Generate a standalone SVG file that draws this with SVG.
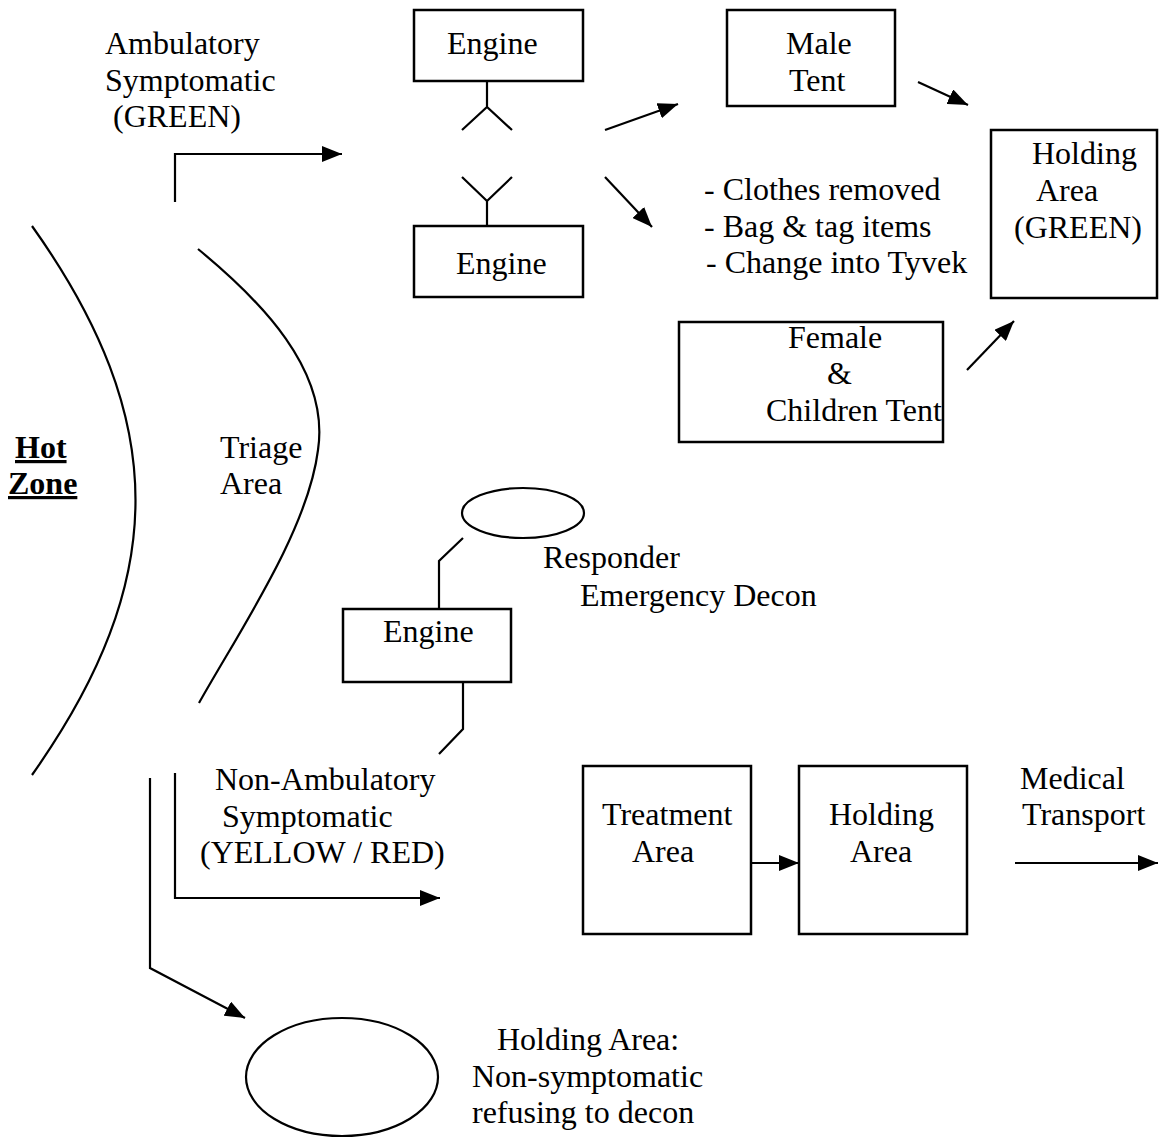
<svg xmlns="http://www.w3.org/2000/svg" width="1159" height="1138" viewBox="0 0 1159 1138">
<defs>
<style>
text{font-family:"Liberation Serif","Times New Roman",serif;font-size:32px;fill:#000}
.box{fill:#fff;stroke:#000;stroke-width:2.5}
.ln{fill:none;stroke:#000;stroke-width:2.2}
.ar{fill:none;stroke:#000;stroke-width:2.2;marker-end:url(#ah)}
.bold{font-weight:bold;text-decoration:underline}
</style>
<marker id="ah" markerUnits="userSpaceOnUse" markerWidth="20" markerHeight="16" refX="20" refY="8" orient="auto">
<path d="M0,0 L20,8 L0,16 z" fill="#000"/>
</marker>
</defs>
<rect width="1159" height="1138" fill="#fff"/>

<g id="hot-zone-boundary">
<path class="ln" d="M32,226 C170,420 170,580 32,775"/>
<text class="bold" x="15" y="458">Hot </text>
<text class="bold" x="8" y="494">Zone</text>
</g>
<g id="triage-area">
<path class="ln" d="M198,249 C260,300 330,370 318,450 C308,530 240,630 199,703"/>
<text x="220" y="458">Triage</text>
<text x="220" y="494">Area</text>
</g>

<g id="ambulatory-label">
<text x="105" y="54">Ambulatory</text>
<text x="105" y="91">Symptomatic</text>
<text x="113" y="127">(GREEN)</text>
</g>

<g id="engine-top">
<rect class="box" x="414" y="10" width="169" height="71"/>
<text x="447" y="54">Engine</text>
</g>
<g id="engine-bottom">
<rect class="box" x="414" y="226" width="169" height="71"/>
<text x="456" y="274">Engine</text>
</g>

<g id="male-tent">
<rect class="box" x="727" y="10" width="168" height="96"/>
<text x="786" y="54">Male</text>
<text x="789" y="91">Tent</text>
</g>

<g id="decon-steps">
<text x="704" y="200">- Clothes removed</text>
<text x="704" y="237">- Bag &amp; tag items</text>
<text x="706" y="273">- Change into Tyvek</text>
</g>

<g id="holding-green">
<rect class="box" x="991" y="130" width="166" height="168"/>
<text x="1032" y="164">Holding</text>
<text x="1036" y="201">Area</text>
<text x="1014" y="238">(GREEN)</text>
</g>

<g id="female-tent">
<rect class="box" x="679" y="322" width="264" height="120"/>
<text x="788" y="348">Female</text>
<text x="827" y="384">&amp;</text>
<text x="766" y="421">Children Tent</text>
</g>

<g id="responder-decon">
<ellipse class="ln" cx="523" cy="513" rx="61" ry="25"/>
<text x="543" y="568">Responder</text>
<text x="580" y="606">Emergency Decon</text>
</g>

<g id="engine-middle">
<rect class="box" x="343" y="609" width="168" height="73"/>
<text x="383" y="642">Engine</text>
</g>

<g id="non-ambulatory-label">
<text x="215" y="790">Non-Ambulatory</text>
<text x="222" y="827">Symptomatic</text>
<text x="200" y="863">(YELLOW / RED)</text>
</g>

<g id="treatment-area">
<rect class="box" x="583" y="766" width="168" height="168"/>
<text x="602" y="825">Treatment</text>
<text x="632" y="862">Area</text>
</g>
<g id="holding-area">
<rect class="box" x="799" y="766" width="168" height="168"/>
<text x="829" y="825">Holding</text>
<text x="850" y="862">Area</text>
</g>

<g id="medical-transport">
<text x="1020" y="789">Medical</text>
<text x="1022" y="825">Transport</text>
</g>

<g id="holding-refusing">
<ellipse class="ln" cx="342" cy="1077" rx="96" ry="59"/>
<text x="497" y="1050">Holding Area:</text>
<text x="472" y="1087">Non-symptomatic</text>
<text x="472" y="1123">refusing to decon</text>
</g>

<g id="connectors">
<path class="ar" d="M175,202 V154 H342"/>
<path class="ln" d="M487,81 V107 M462,130 L487,107 L512,130"/>
<path class="ln" d="M462,177 L487,201 L512,177 M487,201 V226"/>
<path class="ar" d="M605,130 L678,104"/>
<path class="ar" d="M605,177 L652,227"/>
<path class="ar" d="M918,82 L968,105"/>
<path class="ar" d="M967,370 L1014,321"/>
<path class="ln" d="M463,538 L439,561 V609"/>
<path class="ln" d="M463,682 V729 L439,754"/>
<path class="ar" d="M175,773 V898 H440"/>
<path class="ar" d="M150,778 V968 L245,1018"/>
<path class="ar" d="M751,863 H799"/>
<path class="ar" d="M1015,863 H1158"/>
</g>
</svg>
